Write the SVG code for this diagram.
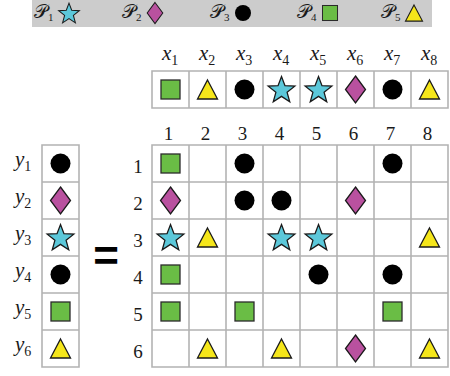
<svg xmlns="http://www.w3.org/2000/svg" xmlns:xlink="http://www.w3.org/1999/xlink" width="450" height="376" viewBox="0 0 450 376">
<style>
.grid{fill:#fff;stroke:#b3b3b3;stroke-width:1.6}
.num{font-family:"Liberation Serif","DejaVu Serif",serif;font-size:19px;fill:#1a1a1a;text-anchor:middle}
.var{font-family:"Liberation Serif","DejaVu Serif",serif;font-size:21px;font-style:italic;fill:#1a1a1a}
.sub{font-style:normal;font-size:14px}
.lg{font-family:"Liberation Serif","DejaVu Serif","DejaVu Sans",serif;font-size:19px;fill:#1a1a1a}
.lsub{font-size:11px}
.eq{font-family:"Liberation Sans","DejaVu Sans",sans-serif;font-size:44px;font-weight:bold;fill:#000;text-anchor:middle}
</style>
<defs>
<rect id="sq" x="-9.5" y="-9.5" width="19" height="19" fill="#6abd45" stroke="#2b2b2b" stroke-width="1.3"/>
<circle id="ci" r="10" fill="#000"/>
<polygon id="tr" points="0,-9.5 10,9.5 -10,9.5" fill="#f5e61a" stroke="#1a1a1a" stroke-width="1.3" stroke-linejoin="miter"/>
<polygon id="di" points="0,-13.5 10,0 0,13.5 -10,0" fill="#b9519f" stroke="#1a1a1a" stroke-width="1.3"/>
<polygon id="st" points="0,-14 3.468,-4.773 13.315,-4.326 5.611,1.823 8.229,11.326 0,5.9 -8.229,11.326 -5.611,1.823 -13.315,-4.326 -3.468,-4.773" fill="#5cc8da" stroke="#1a1a1a" stroke-width="1.3"/>
</defs>

<g id="legend">
<rect x="32" y="0" width="400" height="27" fill="#cccccc"/>
<text class="lg" x="34" y="18">𝒫<tspan class="lsub" dy="3">1</tspan></text>
<use xlink:href="#st" transform="translate(69,14) scale(0.78)"/>
<text class="lg" x="122" y="18">𝒫<tspan class="lsub" dy="3">2</tspan></text>
<use xlink:href="#di" transform="translate(155,13) scale(0.78)"/>
<text class="lg" x="210" y="18">𝒫<tspan class="lsub" dy="3">3</tspan></text>
<use xlink:href="#ci" transform="translate(243,13) scale(0.8)"/>
<text class="lg" x="297" y="18">𝒫<tspan class="lsub" dy="3">4</tspan></text>
<use xlink:href="#sq" transform="translate(330,13) scale(0.79)"/>
<text class="lg" x="381" y="18">𝒫<tspan class="lsub" dy="3">5</tspan></text>
<use xlink:href="#tr" transform="translate(414,13) scale(0.85)"/>
</g>

<g id="x-vector">
<text class="var" x="162" y="60">x<tspan class="sub" dy="5">1</tspan></text>
<text class="var" x="199" y="60">x<tspan class="sub" dy="5">2</tspan></text>
<text class="var" x="236" y="60">x<tspan class="sub" dy="5">3</tspan></text>
<text class="var" x="273" y="60">x<tspan class="sub" dy="5">4</tspan></text>
<text class="var" x="310" y="60">x<tspan class="sub" dy="5">5</tspan></text>
<text class="var" x="347" y="60">x<tspan class="sub" dy="5">6</tspan></text>
<text class="var" x="384" y="60">x<tspan class="sub" dy="5">7</tspan></text>
<text class="var" x="421" y="60">x<tspan class="sub" dy="5">8</tspan></text>
<path class="grid" d="M152,71H448V108H152Z M189,71V108 M226,71V108 M263,71V108 M300,71V108 M337,71V108 M374,71V108 M411,71V108"/>
<use xlink:href="#sq" x="170.5" y="89.5"/>
<use xlink:href="#tr" x="207.5" y="89.5"/>
<use xlink:href="#ci" x="244.5" y="89.5"/>
<use xlink:href="#st" x="281.5" y="90.5"/>
<use xlink:href="#st" x="318.5" y="90.5"/>
<use xlink:href="#di" x="355.5" y="89.5"/>
<use xlink:href="#ci" x="392.5" y="89.5"/>
<use xlink:href="#tr" x="429.5" y="89.5"/>
</g>

<g id="y-vector">
<text class="var" x="15" y="166">y<tspan class="sub" dy="5">1</tspan></text>
<text class="var" x="15" y="203">y<tspan class="sub" dy="5">2</tspan></text>
<text class="var" x="15" y="240">y<tspan class="sub" dy="5">3</tspan></text>
<text class="var" x="15" y="277">y<tspan class="sub" dy="5">4</tspan></text>
<text class="var" x="15" y="314">y<tspan class="sub" dy="5">5</tspan></text>
<text class="var" x="15" y="351">y<tspan class="sub" dy="5">6</tspan></text>
<path class="grid" d="M42,145H79V367H42Z M42,182H79 M42,219H79 M42,256H79 M42,293H79 M42,330H79"/>
<use xlink:href="#ci" x="60.5" y="163.5"/>
<use xlink:href="#di" x="60.5" y="200.5"/>
<use xlink:href="#st" x="60.5" y="238.5"/>
<use xlink:href="#ci" x="60.5" y="274.5"/>
<use xlink:href="#sq" x="60.5" y="311.5"/>
<use xlink:href="#tr" x="60.5" y="348.5"/>
</g>

<g id="equals">
<text class="eq" x="106" y="271">=</text>
</g>

<g id="matrix">
<text class="num" x="168.5" y="140">1</text>
<text class="num" x="205.5" y="140">2</text>
<text class="num" x="242.5" y="140">3</text>
<text class="num" x="279.5" y="140">4</text>
<text class="num" x="316.5" y="140">5</text>
<text class="num" x="353.5" y="140">6</text>
<text class="num" x="390.5" y="140">7</text>
<text class="num" x="427.5" y="140">8</text>
<text class="num" x="138" y="173">1</text>
<text class="num" x="138" y="210">2</text>
<text class="num" x="138" y="247">3</text>
<text class="num" x="138" y="284">4</text>
<text class="num" x="138" y="321">5</text>
<text class="num" x="138" y="358">6</text>
<path class="grid" d="M152,145H448V367H152Z M189,145V367 M226,145V367 M263,145V367 M300,145V367 M337,145V367 M374,145V367 M411,145V367 M152,182H448 M152,219H448 M152,256H448 M152,293H448 M152,330H448"/>
<use xlink:href="#sq" x="170.5" y="163.5"/>
<use xlink:href="#ci" x="244.5" y="163.5"/>
<use xlink:href="#ci" x="392.5" y="163.5"/>
<use xlink:href="#di" x="170.5" y="200.5"/>
<use xlink:href="#ci" x="244.5" y="200.5"/>
<use xlink:href="#ci" x="281.5" y="200.5"/>
<use xlink:href="#di" x="355.5" y="200.5"/>
<use xlink:href="#st" x="170.5" y="238.5"/>
<use xlink:href="#tr" x="207.5" y="237.5"/>
<use xlink:href="#st" x="281.5" y="238.5"/>
<use xlink:href="#st" x="318.5" y="238.5"/>
<use xlink:href="#tr" x="429.5" y="237.5"/>
<use xlink:href="#sq" x="170.5" y="274.5"/>
<use xlink:href="#ci" x="318.5" y="274.5"/>
<use xlink:href="#ci" x="392.5" y="274.5"/>
<use xlink:href="#sq" x="170.5" y="311.5"/>
<use xlink:href="#sq" x="244.5" y="311.5"/>
<use xlink:href="#sq" x="392.5" y="311.5"/>
<use xlink:href="#tr" x="207.5" y="348.5"/>
<use xlink:href="#tr" x="281.5" y="348.5"/>
<use xlink:href="#di" x="355.5" y="348.5"/>
<use xlink:href="#tr" x="429.5" y="348.5"/>
</g>
</svg>
